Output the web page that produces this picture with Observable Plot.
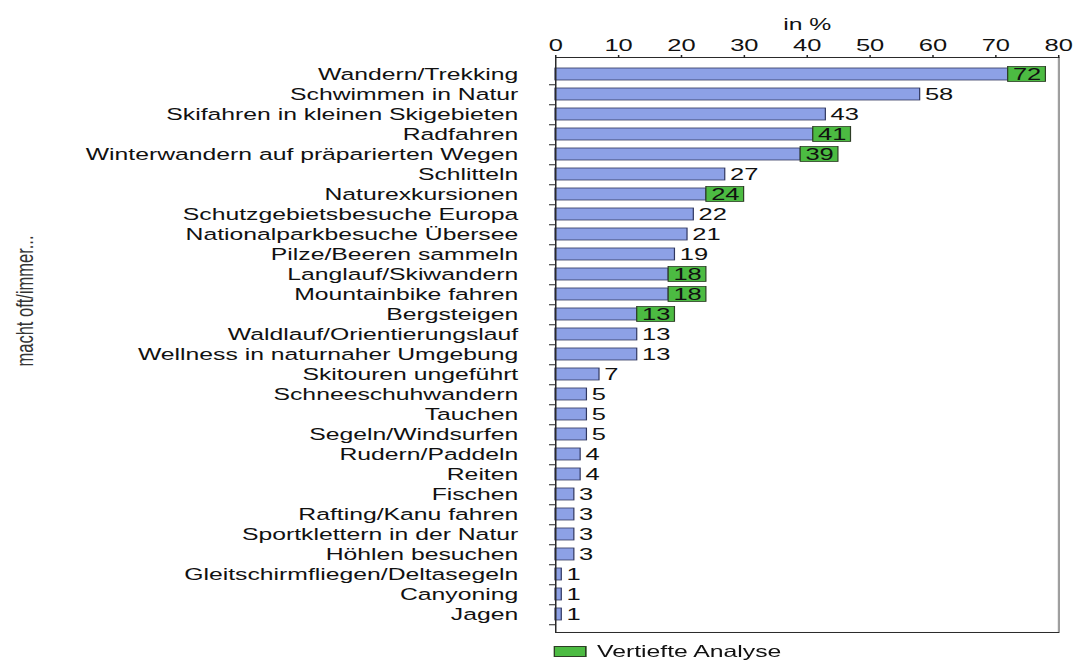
<!DOCTYPE html>
<html>
<head>
<meta charset="utf-8">
<script src="https://cdn.jsdelivr.net/npm/d3@7"></script>
<script src="https://cdn.jsdelivr.net/npm/@observablehq/plot@0.6"></script>
<style>
  html, body { margin: 0; padding: 0; background: #fff; }
  #wrap { width: 727.33px; transform: scaleX(1.5); transform-origin: 0 0; font-family: "Liberation Sans", Arial, sans-serif; }
  #legend { height: 24px; display: flex; align-items: center; padding-left: 369px; font-size: 16.5px; color: #111; }
  #legend .sw { width: 20px; height: 9px; background: #4cbb42; border: 1px solid #2d3d25; margin-right: 7px; }
</style>
</head>
<body>
<div id="wrap"><div id="chart"></div><div id="legend"><span class="sw"></span><span>Vertiefte Analyse</span></div></div>
<script>
const categories = [
  "Wandern/Trekking", "Schwimmen in Natur", "Skifahren in kleinen Skigebieten", "Radfahren",
  "Winterwandern auf präparierten Wegen", "Schlitteln", "Naturexkursionen", "Schutzgebietsbesuche Europa",
  "Nationalparkbesuche Übersee", "Pilze/Beeren sammeln", "Langlauf/Skiwandern", "Mountainbike fahren",
  "Bergsteigen", "Waldlauf/Orientierungslauf", "Wellness in naturnaher Umgebung", "Skitouren ungeführt",
  "Schneeschuhwandern", "Tauchen", "Segeln/Windsurfen", "Rudern/Paddeln", "Reiten", "Fischen",
  "Rafting/Kanu fahren", "Sportklettern in der Natur", "Höhlen besuchen", "Gleitschirmfliegen/Deltasegeln",
  "Canyoning", "Jagen"
];
const values = [72, 58, 43, 41, 39, 27, 24, 22, 21, 19, 18, 18, 13, 13, 13, 7, 5, 5, 5, 4, 4, 3, 3, 3, 3, 1, 1, 1];
const vertiefte = ["Wandern/Trekking", "Radfahren", "Winterwandern auf präparierten Wegen", "Naturexkursionen",
  "Langlauf/Skiwandern", "Mountainbike fahren", "Bergsteigen"];
const xTicks = [0, 10, 20, 30, 40, 50, 60, 70, 80];
const xLabel = "in %";
const yLabel = "macht oft/immer...";

const data = categories.map((name, i) => ({name, value: values[i], deep: vertiefte.includes(name)}));

const H = 640, mT = 57, mB = 8;
const step = (H - mT - mB) / categories.length;

const chart = Plot.plot({
  width: 727.33,
  height: H,
  marginLeft: 370,
  marginRight: 22,
  marginTop: mT,
  marginBottom: mB,
  style: {fontFamily: "'Liberation Sans', Arial, sans-serif", fontSize: "17px", color: "#111", background: "#fff"},
  x: {domain: [0, 80], ticks: xTicks},
  y: {domain: categories, paddingInner: 0.38, paddingOuter: 0.19},
  marks: [
    Plot.barX(data, {y: "name", x: "value", fill: "#8da1e6", stroke: "#30375f", strokeWidth: 0.8}),
    Plot.barX(data.filter(d => d.deep), {y: "name", x1: "value", x2: d => d.value + 6, fill: "#4cbb42", stroke: "#2d3d25", strokeWidth: 0.8, insetTop: -1.5, insetBottom: -1.5}),
    Plot.text(data, {y: "name", x: "value", text: d => String(d.value), dx: 3, textAnchor: "start", fontSize: 17, fill: "#111"}),
    Plot.frame({stroke: "#2a2a2a"}),
    Plot.ruleX([80], {stroke: "#a0a0a0", strokeWidth: 1.2}),
    Plot.axisX({anchor: "top", ticks: xTicks, tickSize: 3, tickPadding: 3, fontSize: 17, label: null, stroke: "#222"}),
    Plot.text([xLabel], {frameAnchor: "top", lineAnchor: "bottom", dy: -27, fontSize: 16.5, fill: "#111"}),
    Plot.axisY({tickSize: 4, text: null, label: null, dy: step / 2, stroke: "#222"}),
    Plot.axisY({tickSize: 0, tickPadding: 25, fontSize: 16.5, label: null, fill: "#111"}),
    Plot.text([yLabel], {frameAnchor: "left", rotate: -90, dx: -354, dy: -44, fontSize: 16.5, fill: "#333", textAnchor: "middle"})
  ]
});
document.getElementById("chart").appendChild(chart);
</script>
</body>
</html>
